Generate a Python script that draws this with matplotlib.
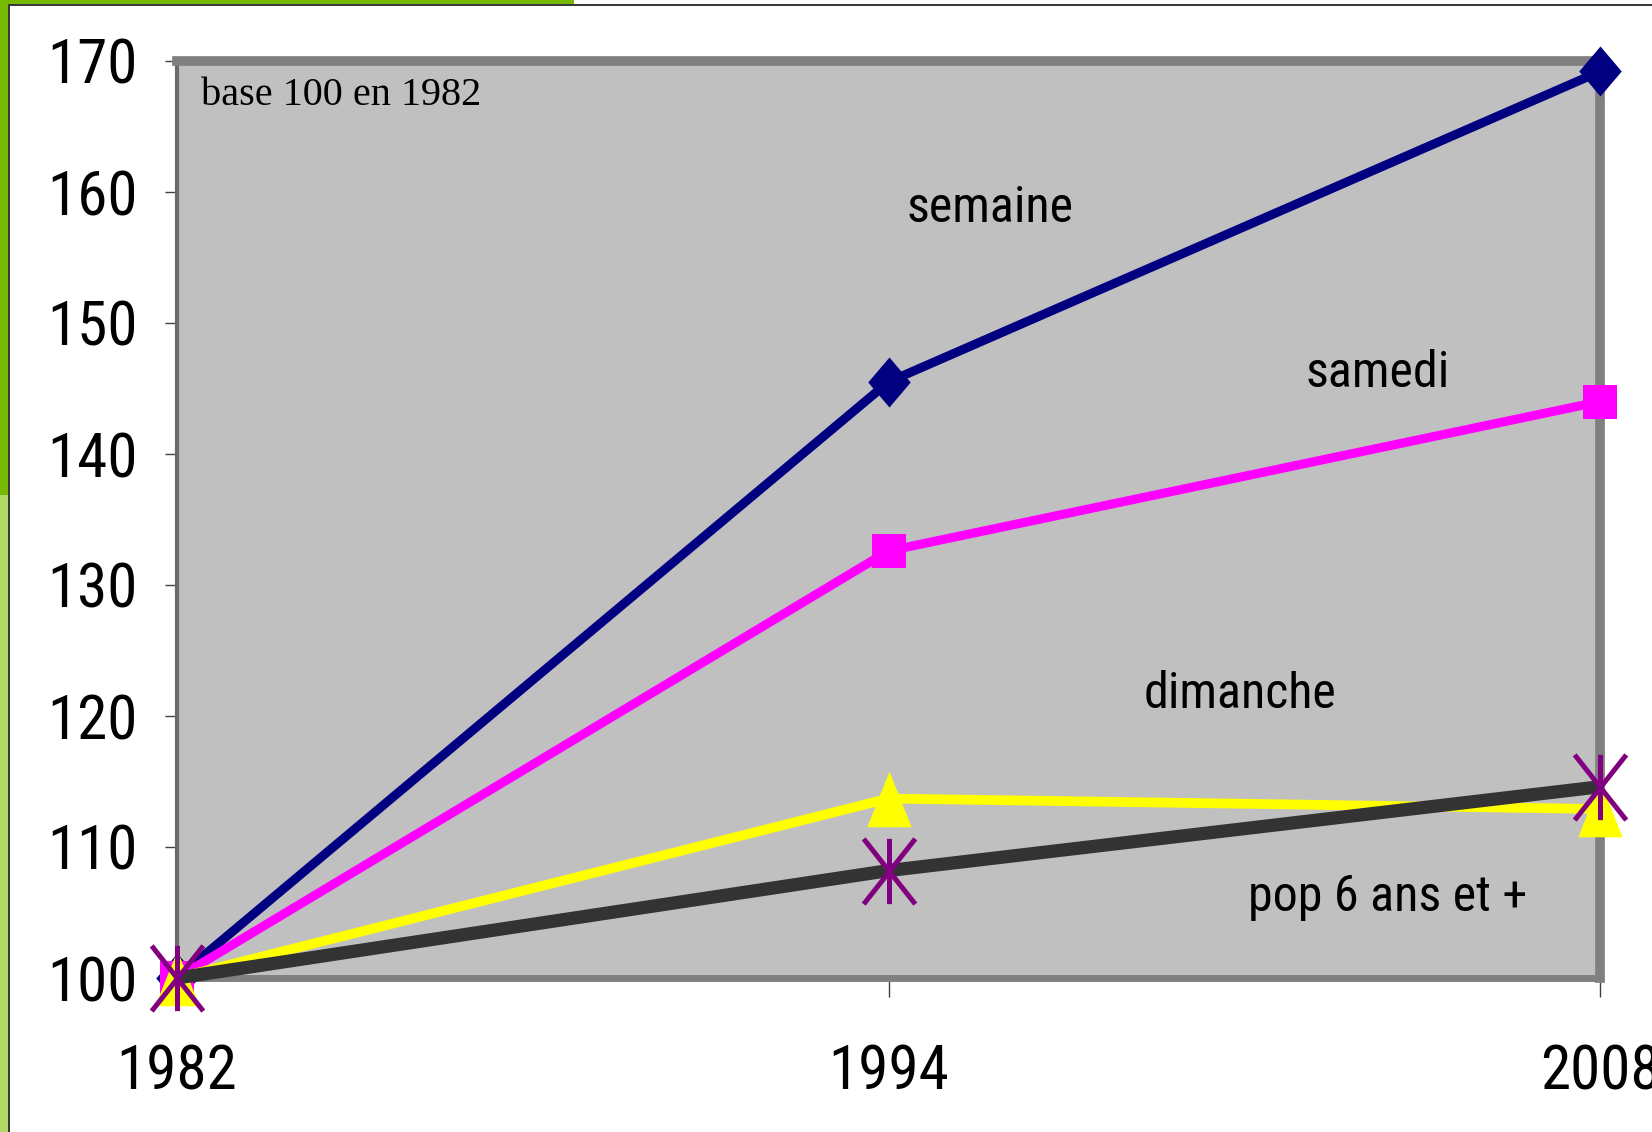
import matplotlib
matplotlib.use("Agg")
import matplotlib.pyplot as plt
from matplotlib.patches import Rectangle
from matplotlib.path import Path
from matplotlib.markers import MarkerStyle

# ---- data ----
years = ["1982", "1994", "2008"]
semaine = [100, 145.5, 169.2]
samedi = [100, 132.6, 144.0]
dimanche = [100, 113.7, 112.9]
pop = [100, 108.2, 114.6]
yticks = [100, 110, 120, 130, 140, 150, 160, 170]
series_labels = ["semaine", "samedi", "dimanche", "pop 6 ans et +"]
note = "base 100 en 1982"

NARROW = ["Roboto Condensed", "Open Sans Condensed", "Liberation Sans Narrow",
          "Arial Narrow", "Liberation Sans", "DejaVu Sans"]

fig = plt.figure(figsize=(16.52, 11.32), dpi=100)
fig.patch.set_facecolor("white")

# decorative frame (slide border)
W, H = 1652.0, 1132.0
fig.patches.append(Rectangle((0, 1 - 495 / H), 8 / W, 495 / H, transform=fig.transFigure,
                             facecolor="#76b900", edgecolor="none", zorder=0))
fig.patches.append(Rectangle((0, 0), 8 / W, 1 - 495 / H, transform=fig.transFigure,
                             facecolor="#b1d767", edgecolor="none", zorder=0))
fig.patches.append(Rectangle((8 / W, 0), 2 / W, 1 - 4 / H, transform=fig.transFigure,
                             facecolor="#3a3a3a", edgecolor="none", zorder=0))
fig.patches.append(Rectangle((0, 1 - 4 / H), 574 / W, 4 / H, transform=fig.transFigure,
                             facecolor="#76b900", edgecolor="none", zorder=0))
fig.patches.append(Rectangle((8 / W, 1 - 6 / H), 1 - 8 / W, 2 / H, transform=fig.transFigure,
                             facecolor="#3a3a3a", edgecolor="none", zorder=0))

ax = fig.add_axes([177 / W, 1 - 978 / H, (1600 - 177) / W, (978 - 61) / H])
ax.set_facecolor("#c0c0c0")
x = list(range(len(years)))

diamond = [(0, 1), (0.85, 0), (0, -1), (-0.85, 0)]
triangle = [(0, 1), (0.8, -1), (-0.8, -1)]
ast_path = Path([(0, -1), (0, 1), (-0.79, -1), (0.79, 1), (-0.79, 1), (0.79, -1)],
                [Path.MOVETO, Path.LINETO, Path.MOVETO, Path.LINETO, Path.MOVETO, Path.LINETO])

ax.plot(x, semaine, color="#000080", lw=6.5, marker=diamond, ms=36, mfc="#000080",
        mec="#000080", mew=0, clip_on=False, zorder=3)
ax.plot(x, samedi, color="#ff00ff", lw=6.5, marker="s", ms=24, mfc="#ff00ff",
        mec="#ff00ff", mew=0, clip_on=False, zorder=4)
ax.plot(x, dimanche, color="#ffff00", lw=7, marker=triangle, ms=40, mfc="#ffff00",
        mec="#ffff00", mew=0, clip_on=False, zorder=5)
ax.plot(x, pop, color="#333333", lw=9.5, marker=MarkerStyle(ast_path), ms=47,
        mfc="none", mec="#800080", mew=3.6, clip_on=False, zorder=6,
        solid_capstyle="butt")

ax.set_xlim(0, len(years) - 1)
ax.set_ylim(100, 170)
ax.set_xticks(x)
ax.set_xticklabels(years)
ax.set_yticks(yticks)
ax.set_yticklabels([str(v) for v in yticks])

for lab in ax.get_xticklabels() + ax.get_yticklabels():
    lab.set_family(NARROW)
    lab.set_fontsize(44)
    lab.set_color("black")

ax.tick_params(axis="y", direction="out", length=9, width=1, color="#404040", pad=19)
ax.tick_params(axis="x", direction="out", length=14, width=1, color="#404040", pad=33)

for s in ("top", "right"):
    ax.spines[s].set_color("#808080")
    ax.spines[s].set_linewidth(7)
ax.spines["bottom"].set_color("#808080")
ax.spines["bottom"].set_linewidth(5)
ax.spines["left"].set_color("#6a6a6a")
ax.spines["left"].set_linewidth(3)

# annotations
ax.text(1.142, 158.8, series_labels[0], family=NARROW, fontsize=36, ha="center", va="center")
ax.text(1.688, 146.2, series_labels[1], family=NARROW, fontsize=36, ha="center", va="center")
ax.text(1.494, 121.7, series_labels[2], family=NARROW, fontsize=36, ha="center", va="center")
ax.text(1.702, 106.2, series_labels[3], family=NARROW, fontsize=36, ha="center", va="center")
ax.text(0.034, 167.4, note, family=["Liberation Serif", "DejaVu Serif"], fontsize=29,
        ha="left", va="center")

fig.savefig("out.png", dpi=100)
